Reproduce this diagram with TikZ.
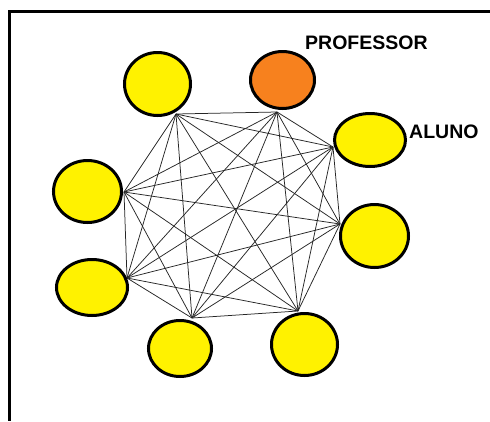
\documentclass[tikz,border=0pt]{standalone}
\usepackage{fontspec}
\setmainfont{Liberation Sans}
\usetikzlibrary{shapes.geometric}
\definecolor{dotyellow}{HTML}{FFF200}
\definecolor{dotorange}{HTML}{F7811E}
\tikzset{
  person/.style={ellipse, draw=black, line width=3pt, fill=dotyellow, inner sep=0pt},
  teacher/.style={person, fill=dotorange},
  link/.style={draw=black!85, line width=0.75pt},
  frameline/.style={draw=black, line width=3pt},
  tag/.style={font=\bfseries\fontsize{19.5}{20}\selectfont, anchor=base west, inner sep=0pt}
}
\begin{document}
\begin{tikzpicture}[x=1pt, y=-1pt]
  \useasboundingbox (0,0) rectangle (490,421);
  \fill[white] (0,0) rectangle (490,421);

  % open frame: top and left edges
  \coordinate (fa) at (490,11.5);
  \coordinate (fb) at (9.5,11.5);
  \coordinate (fc) at (9.5,421);
  \draw[frameline] (fa) -- (fb) -- (fc);

  % meeting points of the links on each circle
  \coordinate (v1) at (176,114);
  \coordinate (v2) at (277,112);
  \coordinate (v3) at (333,147);
  \coordinate (v4) at (124,192);
  \coordinate (v5) at (127,278);
  \coordinate (v6) at (192,318);
  \coordinate (v7) at (298,311);
  \coordinate (v8) at (340,224);

  % every member linked to every other
  \foreach \i in {1,...,8}{
    \foreach \j in {1,...,8}{
      \ifnum\i<\j
        \draw[link] (v\i) -- (v\j);
      \fi
    }
  }

  % the members
  \node[person,  minimum width=66pt, minimum height=63pt] (n1) at (157.5,84) {};
  \node[teacher, minimum width=64pt, minimum height=57pt] (n2) at (282.5,80) {};
  \node[person,  minimum width=71pt, minimum height=53pt] (n3) at (370,140) {};
  \node[person,  minimum width=68pt, minimum height=62pt] (n4) at (87.5,191.5) {};
  \node[person,  minimum width=71pt, minimum height=56pt] (n5) at (92,287.5) {};
  \node[person,  minimum width=63pt, minimum height=56pt] (n6) at (180,348.5) {};
  \node[person,  minimum width=66pt, minimum height=62pt] (n7) at (304.5,344.5) {};
  \node[person,  minimum width=68pt, minimum height=63pt] (n8) at (374.5,236) {};

  % labels
  \node[tag] (lprof) at (305,49) {PROFESSOR};
  \node[tag] (laluno) at (409,138) {ALUNO};
\end{tikzpicture}
\end{document}
